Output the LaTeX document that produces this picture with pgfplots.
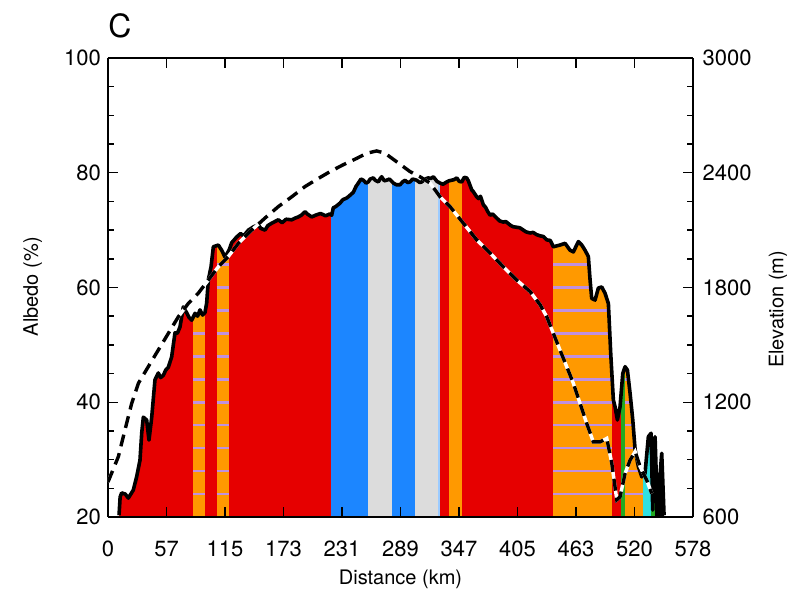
\documentclass[border=0pt]{standalone}
\usepackage{pgfplots}
\usepackage{pgfplotstable}
\pgfplotsset{compat=1.18}
\usepackage{fontspec}
\setmainfont{TeX Gyre Heros}

\definecolor{bred}{HTML}{E60000}
\definecolor{borange}{HTML}{FF9900}
\definecolor{bblue}{HTML}{1C86FF}
\definecolor{bgray}{HTML}{DCDCDC}
\definecolor{blblue}{HTML}{9CCBFF}
\definecolor{blav}{HTML}{C090E0}
\definecolor{bgreen}{HTML}{22AA22}
\definecolor{bcyan}{HTML}{30E0E0}

% albedo profile (%); first two and last two rows close the white mask above it
\pgfplotstableread{
d A
0 100
0 20
10.9 20.3
12.0 23.5
13.5 24.2
17.0 24.0
20.1 23.3
25.0 24.7
28.3 27.0
31.6 29.9
33.3 34.6
34.9 37.4
38.2 36.9
40.5 33.4
43.2 37.4
46.4 43.9
49.7 45.1
52.0 44.3
54.7 44.7
57.0 45.6
59.6 46.1
62.9 47.9
66.2 52.1
68.5 52.0
71.1 53.1
74.4 56.6
77.7 55.6
80.0 54.8
82.7 54.3
86.0 55.5
88.5 55.0
90.9 56.1
93.5 55.2
95.8 55.6
97.5 57.3
99.1 61.3
101.8 63.6
104.1 67.1
109.0 67.4
112.3 66.5
115.6 65.3
119.6 66.5
122.2 67.8
127.1 68.8
131.0 69.4
134.0 69.0
138.7 70.0
144.0 70.6
148.6 70.9
151.0 70.3
155.1 70.0
158.0 70.8
161.7 71.2
165.0 71.5
168.3 71.8
172.0 71.3
176.0 71.9
181.5 71.8
185.0 72.1
188.0 72.3
191.0 72.6
194.7 73.2
197.0 72.8
201.3 72.3
205.0 72.6
210.0 72.9
215.0 72.5
219.0 72.8
221.0 72.6
222.6 73.9
225.0 74.1
229.2 74.7
232.0 75.3
235.9 75.6
238.0 75.9
242.4 76.6
245.0 77.6
247.3 78.2
250.0 78.9
252.3 78.7
255.0 78.2
257.2 78.4
259.0 78.9
262.2 79.1
264.0 78.7
267.1 78.4
269.0 79.0
270.4 79.3
273.0 78.6
275.4 78.7
278.0 78.9
282.0 78.2
285.0 77.9
288.5 77.9
291.0 78.4
293.5 78.7
296.0 78.3
298.4 78.4
301.0 78.9
305.0 78.7
308.0 78.3
310.0 78.4
313.0 78.9
316.5 79.1
319.0 79.0
321.5 79.3
325.0 78.5
328.1 78.2
331.0 78.0
334.7 78.4
337.0 78.6
339.6 78.7
342.0 78.8
344.6 79.1
347.0 78.5
349.5 78.4
352.0 79.2
354.4 79.1
356.0 78.6
359.4 77.0
361.0 76.7
364.3 75.8
366.0 75.5
368.0 75.9
370.9 74.4
373.0 74.0
375.0 73.3
377.5 72.6
380.0 72.8
384.1 72.1
387.0 71.6
390.6 71.4
393.0 71.5
397.2 70.9
400.0 70.6
403.8 70.5
407.0 70.4
410.4 70.0
413.0 69.7
417.0 69.5
420.0 69.6
423.6 69.2
427.0 69.0
430.0 68.9
433.5 68.3
437.0 68.2
440.0 67.1
446.6 67.4
451.6 67.7
456.5 66.5
459.8 66.2
464.7 68.0
468.1 67.4
471.3 66.5
474.6 65.4
476.3 61.3
477.9 58.1
481.2 57.8
484.5 59.9
487.8 60.1
491.1 59.0
494.4 57.2
496.7 48.5
499.3 40.4
501.0 39.2
503.3 36.9
505.9 39.2
508.6 45.0
510.9 46.2
513.2 45.6
515.8 41.6
518.5 36.9
520.8 31.7
524.0 28.8
527.4 27.0
530.6 27.6
533.9 34.0
536.6 34.6
538.2 21.2
540.5 34.0
542.8 21.2
547.1 31.1
549.4 20.3
578 20
578 100
}\alb

% elevation profile (m)
\pgfplotstableread{
d E
0 783
10.2 915
16.8 1056
23.4 1194
30.0 1299
39.8 1386
49.7 1473
59.6 1560
69.5 1647
79.3 1716
89.2 1770
99.1 1839
109.0 1908
118.9 1962
128.8 2031
142.0 2100
155.1 2163
168.3 2223
181.5 2274
194.7 2328
207.8 2370
219.4 2406
232.5 2442
245.7 2475
255.6 2502
265.5 2514
273.7 2502
285.3 2457
298.4 2406
308.3 2379
318.2 2346
328.1 2274
337.9 2223
351.1 2136
364.3 2049
377.5 1980
390.6 1908
403.8 1839
417.0 1779
426.9 1710
433.5 1647
440.0 1560
446.6 1473
453.2 1386
459.8 1299
466.4 1194
473.0 1089
479.5 993
486.2 993
492.8 1011
497.7 882
502.7 690
505.9 705
510.9 828
515.8 897
520.8 942
525.7 864
532.3 792
537.2 723
}\elev

\newcommand{\band}[3]{\addplot[draw=none, fill=#3] coordinates {(#1,20) (#2,20) (#2,100) (#1,100)};}
\newcommand{\hatch}[2]{\pgfplotsinvokeforeach{24,28,32,36,40,44,48,52,56,60,64}{%
  \addplot[blav, line width=1.3pt] coordinates {(#1,##1) (#2,##1)};}}

\pgfplotsset{
  common/.style={
    at={(0,0)}, anchor=south west,
    scale only axis, width=292.5pt, height=229.5pt,
    xmin=0, xmax=578,
    tick align=inside,
    major tick length=5pt, minor tick length=3pt,
    tick style={black, line width=0.7pt},
    axis line style={line width=0.8pt},
    tick label style={font=\fontsize{11}{13}\selectfont},
    label style={font=\fontsize{11.6}{14}\selectfont},
    no markers,
  },
}

\begin{document}
\begin{tikzpicture}
\useasboundingbox (-54pt,-40pt) rectangle (339.5pt,258.5pt);

\begin{axis}[
  common,
  ymin=20, ymax=100,
  axis y line*=left,
  axis on top,
  xtick={0,57.8,115.6,173.4,231.2,289,346.8,404.6,462.4,520.2,578},
  xticklabels={0,57,115,173,231,289,347,405,463,520,578},
  xticklabel style={anchor=base, yshift=-19.85pt},
  ytick={20,40,60,80,100},
  yticklabels={20,40,60,80,100},
  minor ytick={25,30,35,45,50,55,65,70,75,85,90,95},
  xlabel={Distance (km)},
  ylabel={Albedo (\%)},
  every axis x label/.style={at={([yshift=-34pt]axis description cs:0.5,0)}, anchor=base},
  every axis y label/.style={at={([xshift=-35pt,yshift=86.85pt]axis description cs:0,0)}, rotate=90, anchor=base west},
  title={C},
  every axis title/.style={at={([yshift=10pt]axis description cs:0,1)}, anchor=base west, inner sep=0pt, font=\fontsize{16}{19}\selectfont},
]
% surface classes under the albedo curve
\band{10.9}{84.3}{bred}
\band{84.3}{95.8}{borange}
\band{95.8}{107.4}{bred}
\band{107.4}{119.6}{borange}
\band{119.6}{220.2}{bred}
\band{220.2}{257.2}{bblue}
\band{257.2}{280.3}{bgray}
\band{280.3}{303.4}{bblue}
\band{303.4}{326.4}{bgray}
\band{326.4}{328.1}{blblue}
\band{328.1}{337}{bred}
\band{337}{349.5}{borange}
\band{349.5}{440}{bred}
\band{440}{497.7}{borange}
\band{497.7}{507}{bred}
\band{507}{510.9}{bgreen}
\band{510.9}{529}{borange}
\band{529}{536.6}{bcyan}
\band{536.6}{540.5}{bgreen}
\band{540.5}{549.4}{black}
\hatch{84.3}{95.8}
\hatch{107.4}{119.6}
\hatch{440}{497.7}
\hatch{510.9}{529}
% mask above the curve, then the curve
\addplot[draw=none, fill=white] table[x=d, y=A] {\alb};
\addplot[black, line width=1.8pt, line join=round, restrict x to domain=5:570] table[x=d, y=A] {\alb};
\end{axis}

\begin{axis}[
  common,
  ymin=600, ymax=3000,
  axis x line=none,
  axis y line*=right,
  ytick={600,1200,1800,2400,3000},
  yticklabels={600,1200,1800,2400,3000},
  minor ytick={750,900,1050,1350,1500,1650,1950,2100,2250,2550,2700,2850},
  yticklabel style={xshift=1.3pt},
  ylabel={Elevation (m)},
  every axis y label/.style={at={([xshift=45.2pt,yshift=71pt]axis description cs:1,0)}, rotate=90, anchor=base west},
]
\addplot[white, line width=1.7pt] table[x=d, y=E] {\elev};
\addplot[black, line width=1.7pt, dash pattern=on 6pt off 3.5pt] table[x=d, y=E] {\elev};
\end{axis}
\end{tikzpicture}
\end{document}
